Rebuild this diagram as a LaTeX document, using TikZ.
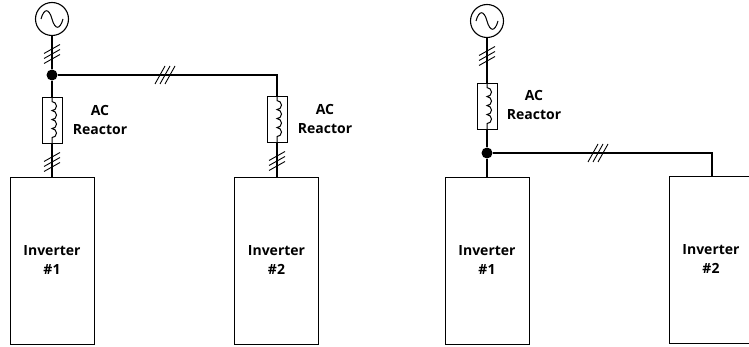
\documentclass[tikz,border=0pt]{standalone}
\usepackage{fontspec}
\setmainfont{Open Sans}
\begin{document}
\begin{tikzpicture}[x=1pt,y=-1pt,
  wire/.style={line width=1.3pt},
  src/.style={circle,draw,line width=1.1pt,minimum size=33pt,inner sep=0pt},
  reactor/.style={rectangle,draw,line width=0.8pt,minimum width=20pt,minimum height=46pt,inner sep=0pt},
  inverter/.style={rectangle,draw,line width=0.9pt,minimum width=84pt,minimum height=167pt,inner sep=0pt,
    align=center,font=\bfseries\fontsize{14}{19}\selectfont},
  lbl/.style={align=center,font=\bfseries\fontsize{14}{19}\selectfont},
  dot/.style={circle,fill,inner sep=0pt,minimum size=11pt},
  hashline/.style={line width=0.9pt},
  coil/.style={line width=1pt},
  vhash/.pic={\foreach \d in {-5,0,5} \draw[hashline] (-8,\d+4.5) -- (8,\d-4.5);},
  hhash/.pic={\foreach \d in {-5,0,5} \draw[hashline] (\d-5,9) -- (\d+5,-9);}
]
\useasboundingbox (0,0) rectangle (749,347);
\clip (0,0) rectangle (749,347);

% ---------------- left diagram ----------------
\node[src] (s1) at (52,19) {};
\draw[line width=1pt] (s1.center) ++(-11,0) .. controls ++(3,-11) and ++(-3,-11) .. ++(11,0)
  .. controls ++(3,11) and ++(-3,11) .. ++(11,0);
\node[dot] (j1) at (52,75) {};
\node[reactor] (r1) at (52,120) {};
\node[reactor] (r2) at (277,119) {};
\node[inverter] (i1) at (52,260.5) {Inverter\\\#1};
\node[inverter] (i2) at (276.5,260.5) {Inverter\\\#2};
\coordinate (c1) at (277,75);

\draw[wire] (s1) -- (j1);
\draw[wire] (j1) -- (r1);
\draw[wire] (r1) -- (i1);
\draw[wire] (j1) -- (c1) -- (r2);
\draw[wire] (r2) -- (i2.north -| r2);

\foreach \r in {r1,r2}{
  \draw[coil] (\r.north) -- ++(0,5) arc(-90:90:4.5) arc(-90:90:4.5) arc(-90:90:4.5) arc(-90:90:4.5) -- (\r.south);
}

\pic at (52,54) {vhash};
\pic at (52,162) {vhash};
\pic at (277,161) {vhash};
\pic at (165,75) {hhash};

\node[lbl] (l1) at (100,120) {AC\\Reactor};
\node[lbl] (l2) at (325,119) {AC\\Reactor};

% ---------------- right diagram ----------------
\node[src] (s2) at (487,21) {};
\draw[line width=1pt] (s2.center) ++(-11,0) .. controls ++(3,-11) and ++(-3,-11) .. ++(11,0)
  .. controls ++(3,11) and ++(-3,11) .. ++(11,0);
\node[reactor] (r3) at (487,106) {};
\node[dot] (j2) at (487,153) {};
\node[inverter] (i3) at (487,260.5) {Inverter\\\#1};
\node[inverter] (i4) at (711,259.5) {Inverter\\\#2};
\coordinate (c2) at (712,153);

\draw[wire] (s2) -- (r3);
\draw[wire] (r3) -- (j2);
\draw[wire] (j2) -- (i3);
\draw[wire] (j2) -- (c2) -- (c2 |- i4.north);
\draw[coil] (r3.north) -- ++(0,5) arc(-90:90:4.5) arc(-90:90:4.5) arc(-90:90:4.5) arc(-90:90:4.5) -- (r3.south);

\pic at (487,56) {vhash};
\pic at (598,153) {hhash};

\node[lbl] (l3) at (534,105) {AC\\Reactor};
\end{tikzpicture}
\end{document}
